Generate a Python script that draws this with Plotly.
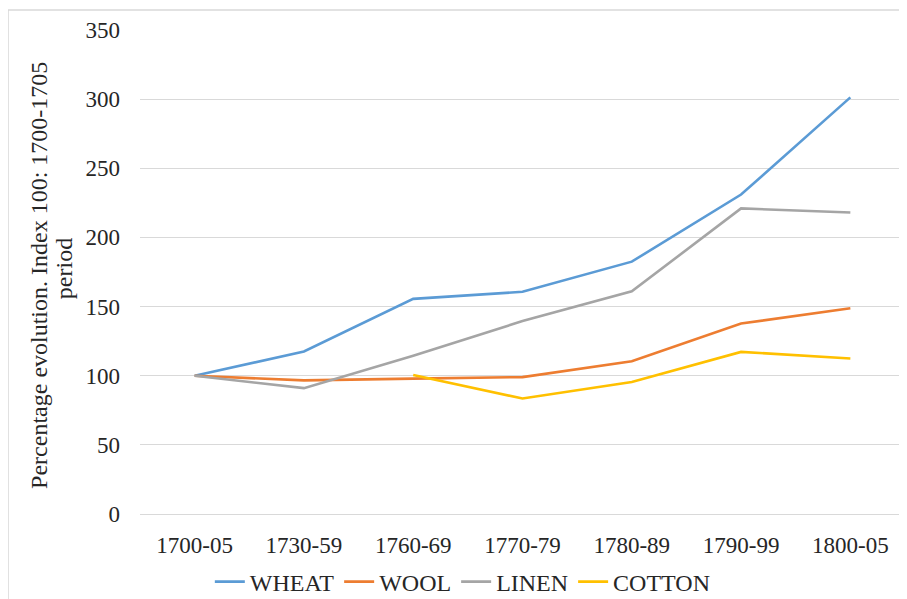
import plotly.graph_objects as go

categories = ["1700-05", "1730-59", "1760-69", "1770-79", "1780-89", "1790-99", "1800-05"]
wheat = [100, 117.5, 155.6, 160.7, 182.5, 231, 301.3]
wool = [100, 96.6, 97.9, 99, 110.5, 137.7, 148.8]
linen = [100, 91, 114.5, 139.5, 161, 221, 218]
cotton = [None, None, 100.5, 83.5, 95.5, 117.2, 112.5]
y_title_lines = ["Percentage evolution. Index 100: 1700-1705", "period"]

series = [
    ("WHEAT", wheat, "#5B9BD5"),
    ("WOOL", wool, "#ED7D31"),
    ("LINEN", linen, "#A5A5A5"),
    ("COTTON", cotton, "#FFC000"),
]

font_family = "Liberation Serif, Times New Roman, serif"
txt_color = "#262626"

fig = go.Figure()
for name, vals, color in series:
    fig.add_trace(go.Scatter(
        x=categories, y=vals, name=name, mode="lines",
        line=dict(color=color, width=2.6),
        connectgaps=False,
    ))

fig.update_layout(
    width=907, height=599,
    margin=dict(l=132, r=10, t=22, b=93, autoexpand=False),
    paper_bgcolor="white", plot_bgcolor="white",
    font=dict(family=font_family, size=23, color=txt_color),
    showlegend=True,
    legend=dict(orientation="h", x=0.422, xanchor="center", y=-0.1405, yanchor="middle",
                font=dict(family=font_family, size=24, color=txt_color),
                itemwidth=30, tracegroupgap=0),
    xaxis=dict(type="category", range=[-0.5, 6.5], showgrid=False, showline=True,
               linecolor="#D9D9D9", linewidth=1, ticks="", tickfont=dict(size=23),
               ticklabelstandoff=10),
    yaxis=dict(range=[0, 350], dtick=50, showgrid=True, gridcolor="#D9D9D9",
               gridwidth=1, zeroline=False, showline=False, ticks="",
               tickfont=dict(size=23), ticklabelstandoff=19),
    annotations=[
        dict(text=y_title_lines[0], xref="paper", yref="paper", x=-0.1320, y=0.492,
             xanchor="center", yanchor="middle", textangle=-90, showarrow=False,
             font=dict(size=24, family=font_family, color=txt_color)),
        dict(text=y_title_lines[1], xref="paper", yref="paper", x=-0.0993, y=0.506,
             xanchor="center", yanchor="middle", textangle=-90, showarrow=False,
             font=dict(size=24, family=font_family, color=txt_color)),
    ],
    shapes=[dict(type="rect", xref="paper", yref="paper",
                 x0=-0.1725, x1=1.05, y0=-0.22, y1=1.0413,
                 line=dict(color="#D9D9D9", width=1.5), fillcolor="rgba(0,0,0,0)")],
)

fig.write_html("out.html")
